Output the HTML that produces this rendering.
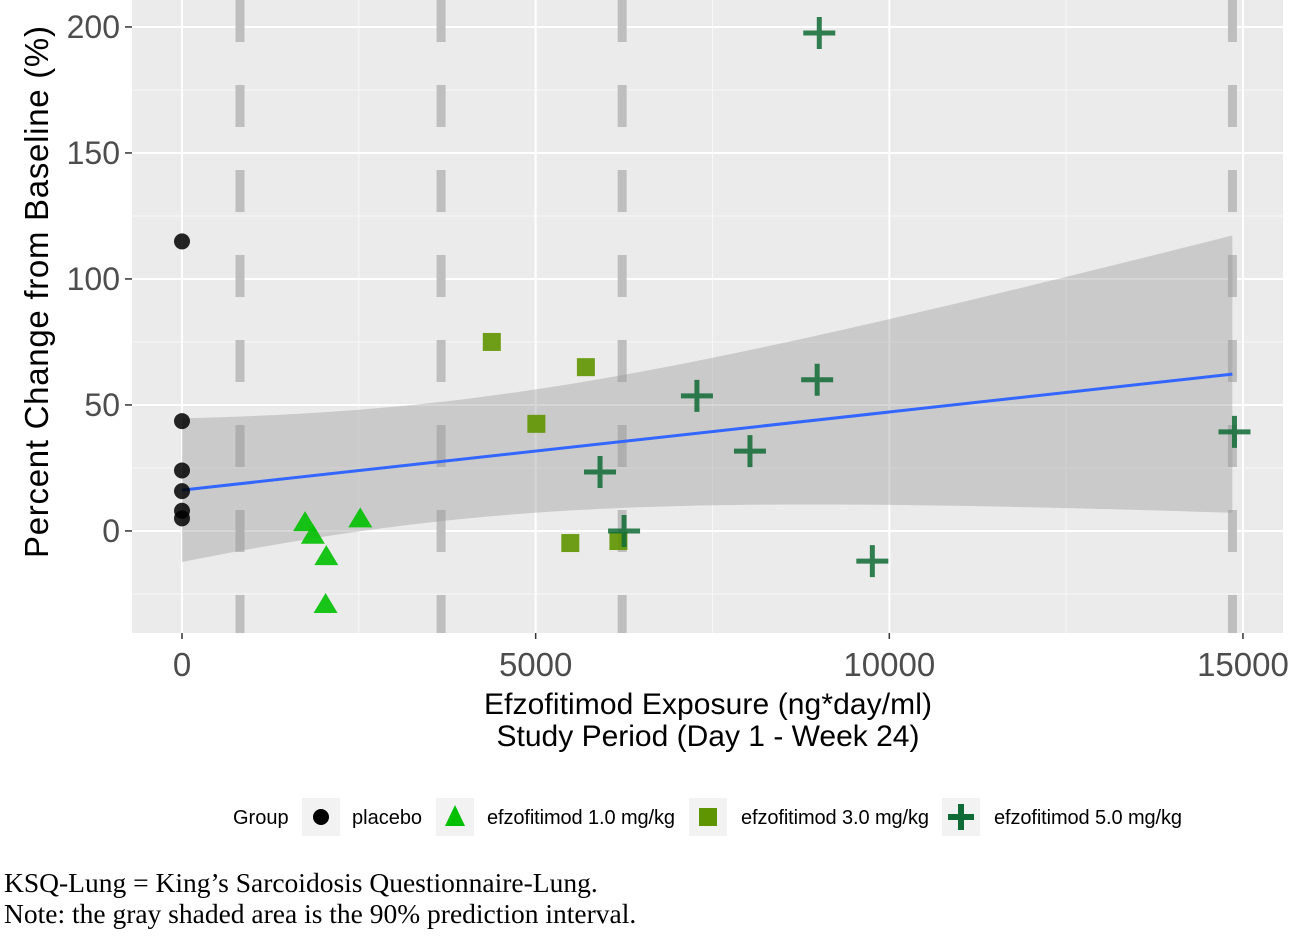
<!DOCTYPE html>
<html><head><meta charset="utf-8"><style>
body{margin:0;background:#fff;width:1295px;height:934px;overflow:hidden;font-family:"Liberation Sans",sans-serif}
</style></head><body>
<svg id="chart" width="1295" height="934" xmlns="http://www.w3.org/2000/svg">
<g id="panel"></g>
<text x="708" y="714" font-size="30" text-anchor="middle" fill="#000" textLength="448">Efzofitimod Exposure (ng*day/ml)</text>
<text x="708" y="746" font-size="30" text-anchor="middle" fill="#000">Study Period (Day 1 - Week 24)</text>
<text transform="translate(48,292) rotate(-90)" font-size="33" text-anchor="middle" fill="#000" textLength="532">Percent Change from Baseline (%)</text>
<g id="legend" font-size="20" fill="#000">
<text x="233" y="824">Group</text>
<rect x="302" y="798" width="38" height="38" fill="#f2f2f2"/><circle cx="321" cy="817" r="8" fill="#000"/>
<text x="352" y="824">placebo</text>
<rect x="436" y="798" width="38" height="38" fill="#f2f2f2"/><polygon points="455,805 445,826 465,826" fill="#00c000"/>
<text x="487" y="824" textLength="188">efzofitimod 1.0 mg/kg</text>
<rect x="689" y="798" width="38" height="38" fill="#f2f2f2"/><rect x="699" y="808" width="18" height="18" fill="#5f9500"/>
<text x="741" y="824" textLength="188">efzofitimod 3.0 mg/kg</text>
<rect x="942" y="798" width="38" height="38" fill="#f2f2f2"/><path d="M961,804V830M948,817H974" stroke="#0f6b35" stroke-width="6"/>
<text x="994" y="824" textLength="188">efzofitimod 5.0 mg/kg</text>
</g>
<text x="4" y="892" font-family="Liberation Serif,serif" font-size="27.5">KSQ-Lung = King’s Sarcoidosis Questionnaire-Lung.</text>
<text x="4" y="923" font-family="Liberation Serif,serif" font-size="27.5">Note: the gray shaded area is the 90% prediction interval.</text>
</svg>
<script>
const xTicks=[0,5000,10000,15000];
const yTicks=[0,50,100,150,200];
const dashedX=[820,3663,6223,14851];
const placeboX=[0,0,0,0,0,0];
const placeboY=[114.9,43.6,24,15.8,8,5];
const g1X=[1740,1850,2040,2030,2520];
const g1Y=[3.5,-1.5,-10,-29,5];
const g3X=[4380,5710,5010,5490,6170];
const g3Y=[75,65,42.5,-4.8,-4];
const g5X=[9010,7280,5910,6250,8030,8980,9760,14880];
const g5Y=[197.6,53.6,23.4,0,31.7,60,-12,39.3];
const fitIntercept=16.2, fitSlope=0.00310, fitXMax=14850;
const bandA=560, bandB=1.95e-5, bandM=3600;

const NS="http://www.w3.org/2000/svg";
const P={l:132,r:1283,t:0,b:633};
const xMin=-707,xMax=15566,yMin=-40.5,yMax=210.7;
const sx=v=>P.l+(v-xMin)/(xMax-xMin)*(P.r-P.l);
const sy=v=>P.b-(v-yMin)/(yMax-yMin)*(P.b-P.t);
const panel=document.getElementById('panel');
function mk(tag,attrs,parent){const e=document.createElementNS(NS,tag);for(const k in attrs)e.setAttribute(k,attrs[k]);(parent||panel).appendChild(e);return e;}
const bg=mk('rect',{x:P.l,y:P.t,width:P.r-P.l,height:P.b-P.t,fill:'#ebebeb'});


for(let i=0;i<xTicks.length-1;i++){const v=(xTicks[i]+xTicks[i+1])/2;mk('line',{x1:sx(v),x2:sx(v),y1:P.t,y2:P.b,stroke:'#f7f7f7','stroke-width':1});}
for(let i=0;i<yTicks.length-1;i++){const v=(yTicks[i]+yTicks[i+1])/2;mk('line',{x1:P.l,x2:P.r,y1:sy(v),y2:sy(v),stroke:'#f7f7f7','stroke-width':1});}
mk('line',{x1:P.l,x2:P.r,y1:sy(-25),y2:sy(-25),stroke:'#f7f7f7','stroke-width':1});
xTicks.forEach(v=>{const l=mk('line',{x1:sx(v),x2:sx(v),y1:P.t,y2:P.b,stroke:'#fff','stroke-width':2});
 mk('line',{x1:sx(v),x2:sx(v),y1:P.b,y2:P.b+6,stroke:'#333','stroke-width':1.5});
 const t=mk('text',{x:sx(v),y:P.b+43,'font-size':33,'text-anchor':'middle',fill:'#4d4d4d'});t.textContent=v;
 });
yTicks.forEach(v=>{const l=mk('line',{x1:P.l,x2:P.r,y1:sy(v),y2:sy(v),stroke:'#fff','stroke-width':2});
 mk('line',{x1:P.l-7,x2:P.l,y1:sy(v),y2:sy(v),stroke:'#333','stroke-width':1.5});
 const t=mk('text',{x:P.l-12,y:sy(v)+11,'font-size':32,'text-anchor':'end',fill:'#4d4d4d'});t.textContent=v;
 });
dashedX.forEach(v=>{const l=mk('line',{x1:sx(v),x2:sx(v),y1:P.t,y2:P.b,stroke:'#bebebe','stroke-width':9,'stroke-dasharray':'42 43'});
 });
const fit=x=>fitIntercept+fitSlope*x;
const hw=x=>Math.sqrt(bandA+bandB*(x-bandM)*(x-bandM));
let up=[],lo=[];
for(let i=0;i<=80;i++){const x=fitXMax*i/80;up.push(sx(x)+','+sy(fit(x)+hw(x)));lo.unshift(sx(x)+','+sy(fit(x)-hw(x)));}
const band=mk('polygon',{points:up.concat(lo).join(' '),fill:'#999','fill-opacity':0.4});


const fl=mk('line',{x1:sx(0),y1:sy(fit(0)),x2:sx(fitXMax),y2:sy(fit(fitXMax)),stroke:'#3366ff','stroke-width':3});


placeboX.forEach((x,i)=>{const c=mk('circle',{cx:sx(x),cy:sy(placeboY[i]),r:8,fill:'#000','fill-opacity':0.85});
 });
g1X.forEach((x,i)=>{const X=sx(x),Y=sy(g1Y[i]);const p=mk('polygon',{points:`${X},${Y-11} ${X-12},${Y+9} ${X+12},${Y+9}`,fill:'#00c000','fill-opacity':0.9});
 });
g3X.forEach((x,i)=>{const X=sx(x),Y=sy(g3Y[i]);const r=mk('rect',{x:X-9,y:Y-9,width:18,height:18,fill:'#5f9500','fill-opacity':0.9});
 });
g5X.forEach((x,i)=>{const X=sx(x),Y=sy(g5Y[i]);const p=mk('path',{d:`M${X},${Y-16}V${Y+16}M${X-16},${Y}H${X+16}`,stroke:'#0f6b35','stroke-width':5,'stroke-opacity':0.85});
 });
</script>
</body></html>
